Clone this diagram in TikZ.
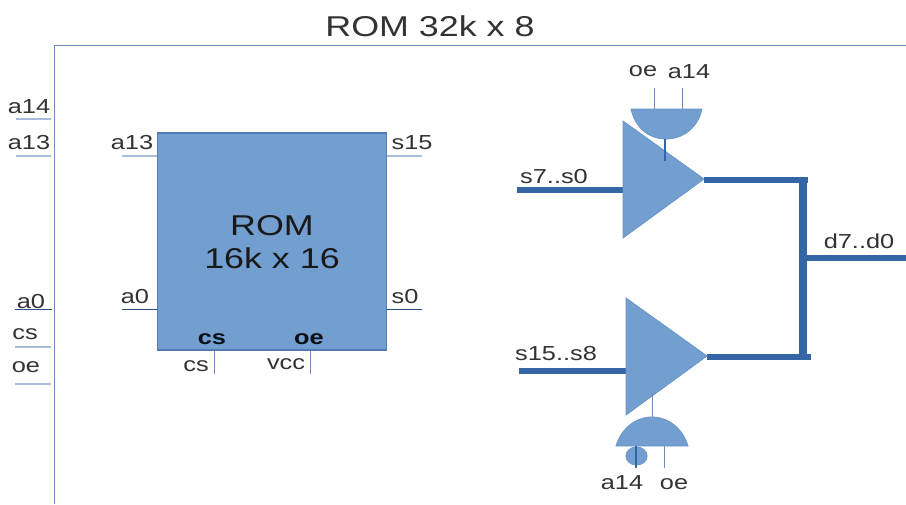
\documentclass[tikz,border=0pt]{standalone}
\usepackage{fontspec}
\setmainfont[FakeStretch=1.25]{Liberation Sans}
\usetikzlibrary{shapes.geometric}
\definecolor{fillblue}{HTML}{729FCF}
\definecolor{edgeblue}{HTML}{3465A4}
\definecolor{thinblue}{HTML}{6C8DB8}
\definecolor{paleblue}{HTML}{A9BDD8}
\definecolor{inktext}{HTML}{333333}
\tikzset{
  x=0.75pt,y=-0.75pt,
  lbl/.style={inner sep=0pt,text=inktext,font=\fontsize{15.2}{17}\selectfont},
  boldlbl/.style={inner sep=0pt,text=black!85!edgeblue,font=\fontsize{15.2}{17}\selectfont\bfseries},
  biglbl/.style={inner sep=0pt,font=\fontsize{21.5}{24}\selectfont},
  wire/.style={draw=thinblue,line width=0.7pt},
  palewire/.style={draw=paleblue,line width=1pt},
  darkwire/.style={draw=edgeblue!80!black,line width=0.6pt},
  bus/.style={draw=edgeblue,line width=4.4pt},
  shapefill/.style={fill=fillblue,draw=fillblue!85!edgeblue,line width=0.6pt},
  romblock/.style={fill=fillblue,draw=edgeblue!85,line width=0.9pt,inner sep=0pt,minimum width=171.75pt,minimum height=162.75pt},
}
\begin{document}
\begin{tikzpicture}
\useasboundingbox (0,0) rectangle (906,504);
\fill[white] (0,0) rectangle (906,504);
% frame
\coordinate (frameB) at (54,504); \coordinate (frameC) at (54,45); \coordinate (frameR) at (906,45);
\draw[wire] (frameB) -- (frameC) -- (frameR);
\node[biglbl,text=inktext] (title) at (430,26) {ROM 32k x 8};
% outer pins
\coordinate (o14a) at (16,119); \coordinate (o14b) at (51,119);
\coordinate (o13a) at (16,156); \coordinate (o13b) at (51,156);
\coordinate (o0a) at (15,309); \coordinate (o0b) at (52,309);
\coordinate (ocsa) at (15,347); \coordinate (ocsb) at (51,347);
\coordinate (ooea) at (15,384); \coordinate (ooeb) at (51,384);
\draw[palewire] (o14a) -- (o14b);
\draw[palewire] (o13a) -- (o13b);
\draw[darkwire] (o0a) -- (o0b);
\draw[palewire] (ocsa) -- (ocsb);
\draw[palewire] (ooea) -- (ooeb);
\node[lbl] (ta14) at (29,106.5) {a14};
\node[lbl] (ta13) at (29,142.5) {a13};
\node[lbl] (ta0) at (31,301.5) {a0};
\node[lbl] (tcs) at (25,334.5) {cs};
\node[lbl] (toe) at (26,367.5) {oe};
% ROM
\coordinate (ina13) at (122,156); \coordinate (ina0) at (122,309);
\coordinate (outs15) at (422,156); \coordinate (outs0) at (422,309);
\coordinate (pincs) at (214,374); \coordinate (pinvcc) at (310,374);
\node[romblock] (rom) at (272,241.5) {};
\draw[palewire] (ina13) -- (ina13 -| rom.west);
\draw[darkwire] (ina0) -- (ina0 -| rom.west);
\draw[palewire] (outs15) -- (outs15 -| rom.east);
\draw[darkwire] (outs0) -- (outs0 -| rom.east);
\draw[wire] (pincs) -- (pincs |- rom.south);
\draw[wire] (pinvcc) -- (pinvcc |- rom.south);
\node[biglbl,text=black!90,align=center] (romname) at (272,242) {ROM\\[0.5pt]16k x 16};
\node[lbl] (ia13) at (132,142.5) {a13};
\node[lbl] (ia0) at (135,296.5) {a0};
\node[lbl] (is15) at (412,142.5) {s15};
\node[lbl] (is0) at (405,296.5) {s0};
\node[boldlbl] (ics) at (212,339) {cs};
\node[boldlbl] (ioe) at (309,339) {oe};
\node[lbl] (lcs) at (196,366.5) {cs};
\node[lbl] (lvcc) at (286,364.5) {vcc};
% buses (below the triangles)
\coordinate (in1) at (517,190); \coordinate (tri1in) at (623,190); \coordinate (tri1out) at (704,180);
\coordinate (in2) at (519,371); \coordinate (tri2in) at (626,371); \coordinate (tri2out) at (707,357);
\coordinate (junc1) at (808,180); \coordinate (junc2) at (811,357); \coordinate (vtop) at (803,178); \coordinate (vbot) at (803,359);
\coordinate (dj) at (803,258); \coordinate (dout) at (906,258);
\draw[bus] (in1) -- (tri1in);
\draw[bus] (in2) -- (tri2in);
\draw[bus] (tri1out) -- (junc1);
\draw[bus] (tri2out) -- (junc2);
\draw[bus,line width=5.5pt] (vtop) -- (vbot);
\draw[bus] (dj) -- (dout);
% triangles
\coordinate (t1a) at (623,121); \coordinate (t1b) at (623,238); \coordinate (t1c) at (704,179);
\coordinate (t2a) at (626,298); \coordinate (t2b) at (626,415); \coordinate (t2c) at (707,356);
\draw[shapefill] (t1a) -- (t1c) -- (t1b) -- cycle;
\draw[shapefill] (t2a) -- (t2c) -- (t2b) -- cycle;
% upper gate
\coordinate (g1l) at (631,109); \coordinate (g1r) at (702,109); \coordinate (g1b) at (666,139);
\draw[shapefill] (g1l) -- (g1r) .. controls (698,127) and (684,139) .. (g1b) .. controls (648,139) and (635,127) .. (g1l) -- cycle;
\coordinate (g1i1) at (654,88); \coordinate (g1i2) at (682,88); \coordinate (g1o) at (665,161);
\draw[wire] (g1i1) -- (g1i1 |- g1l);
\draw[wire] (g1i2) -- (g1i2 |- g1l);
\draw[draw=edgeblue,line width=0.9pt] (g1o) -- (g1o |- g1b);
\node[lbl] (goe1) at (643,71.5) {oe};
\node[lbl] (ga141) at (689,71.5) {a14};
% lower gate
\coordinate (g2l) at (616,446); \coordinate (g2r) at (688,446); \coordinate (g2t) at (652,417);
\draw[shapefill] (g2l) .. controls (621,429) and (635,417) .. (g2t) .. controls (669,417) and (683,429) .. (g2r) -- cycle;
\node[shapefill,ellipse,inner sep=0pt,minimum width=16pt,minimum height=13.5pt] (bubble) at (636.5,456) {};
\coordinate (g2i1) at (636,468); \coordinate (g2i1t) at (636,446); \coordinate (g2i2) at (664,468); \coordinate (g2o) at (652,393);
\draw[draw=edgeblue,line width=0.8pt] (g2i1) -- (g2i1t);
\draw[wire] (g2i2) -- (g2i2 |- g2l);
\draw[wire] (g2o) -- (g2t);
\node[lbl] (ga142) at (622,482.5) {a14};
\node[lbl] (goe2) at (674,484.5) {oe};
% bus labels
\node[lbl] (ts7) at (554,176.5) {s7..s0};
\node[lbl] (ts15) at (556,353.5) {s15..s8};
\node[lbl] (td7) at (859,241.5) {d7..d0};
\end{tikzpicture}
\end{document}
